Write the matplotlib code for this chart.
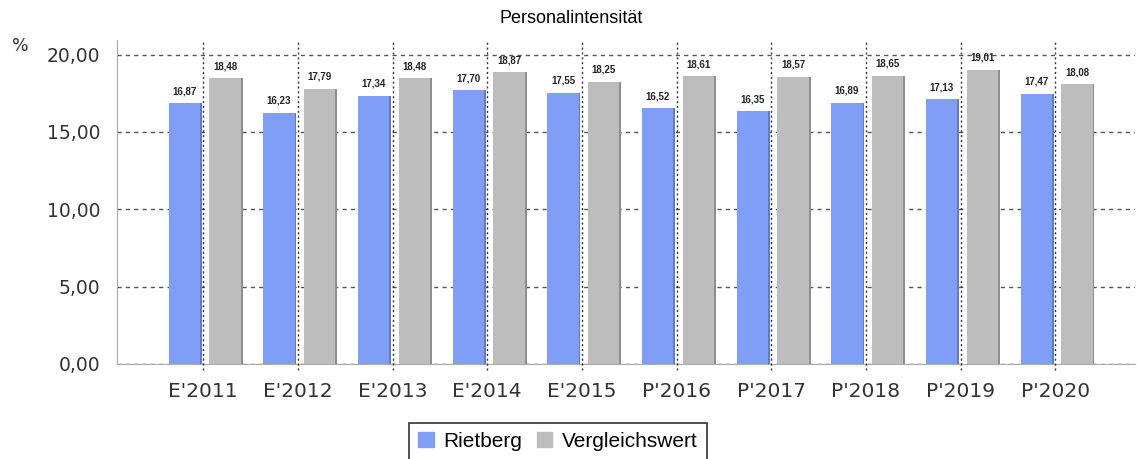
import numpy as np
import matplotlib.pyplot as plt
from matplotlib.patches import Patch

# data
jahre = ["E'2011", "E'2012", "E'2013", "E'2014", "E'2015",
         "P'2016", "P'2017", "P'2018", "P'2019", "P'2020"]
rietberg = [16.87, 16.23, 17.34, 17.70, 17.55, 16.52, 16.35, 16.89, 17.13, 17.47]
vergleich = [18.48, 17.79, 18.48, 18.87, 18.25, 18.61, 18.57, 18.65, 19.01, 18.08]

blau = '#809ef5'
grau = '#bdbdbd'

def de(v):
    return f'{v:.2f}'.replace('.', ',')

fig = plt.figure(figsize=(11.37, 4.59), dpi=100)
ax = fig.add_axes([0.103, 0.207, 0.895, 0.706])

x = np.arange(len(jahre))
w = 0.33
for vals, off, col, dark in [(rietberg, -0.2, blau, '#5f7bd0'), (vergleich, 0.23, grau, '#8e8e8e')]:
    # small shadow on right side for the 3D look
    ax.bar(x + off + 0.02, vals, width=w, color=dark, zorder=2)
    ax.bar(x + off, vals, width=w, color=col, zorder=3)
    for xi, v in zip(x, vals):
        ax.text(xi + off, v + 0.45, de(v), ha='center', va='bottom',
                fontsize=7, fontweight='bold', color='#222222',
                family='Liberation Sans', zorder=5)

ax.set_xlim(-0.91, 9.84)
ax.set_ylim(0, 20.95)
ax.set_yticks([0, 5, 10, 15, 20])
ax.set_yticklabels([de(t) for t in [0, 5, 10, 15, 20]])
ax.set_xticks(x)
ax.set_xticklabels(jahre)

ax.yaxis.grid(True, linestyle=(0, (3, 3)), color='#555555', linewidth=1, zorder=1)
ax.set_axisbelow(True)
for xi in x:
    ax.axvline(xi, ymin=-0.02, ymax=1, color='#333333', linestyle=(0, (1.5, 2)),
               linewidth=1, zorder=4, clip_on=False)

for s in ['top', 'right']:
    ax.spines[s].set_visible(False)
ax.spines['left'].set_color('#aaaaaa')
ax.spines['bottom'].set_color('#aaaaaa')
ax.tick_params(axis='both', length=0, labelsize=13.5, labelcolor='#333333')
ax.tick_params(axis='x', labelsize=14.5, pad=13)
ax.tick_params(axis='y', pad=12)

fig.text(0.502, 0.96, 'Personalintensität', ha='center', va='center',
         fontsize=13, family='Liberation Sans')
fig.text(0.018, 0.9, '%', ha='center', va='center', fontsize=12.5, color='#333333')

handles = [Patch(color=blau, label='Rietberg'), Patch(color=grau, label='Vergleichswert')]
leg = fig.legend(handles=handles, loc='upper center', bbox_to_anchor=(0.4905, 0.079),
                 ncol=2, fancybox=False, edgecolor='black', handlelength=0.75,
                 handleheight=0.75, handletextpad=0.45, columnspacing=0.7,
                 borderpad=0.45, borderaxespad=0,
                 prop={'family': 'Liberation Sans', 'size': 15})
leg.get_frame().set_linewidth(1.2)

plt.savefig('out.png', dpi=100)
